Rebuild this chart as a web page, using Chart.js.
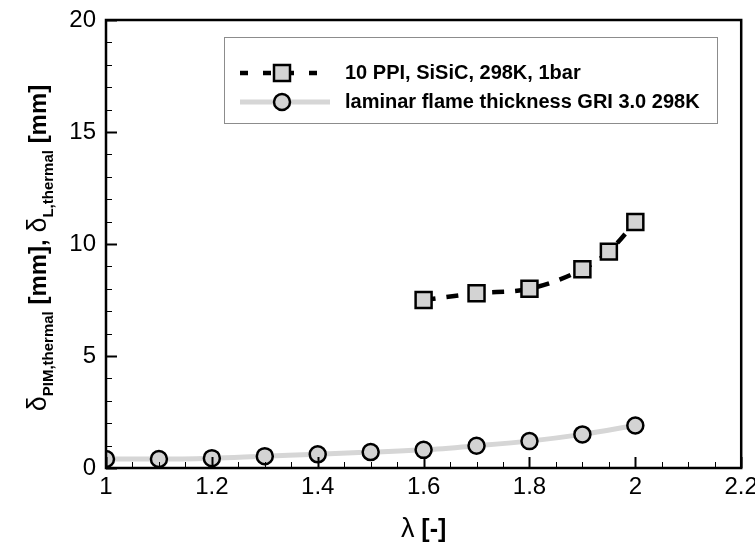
<!DOCTYPE html>
<html>
<head>
<meta charset="utf-8">
<script src="https://cdn.jsdelivr.net/npm/chart.js@4.4.1/dist/chart.umd.min.js"></script>
<style>
  body { margin: 0; background: #fff; }
  canvas { display: block; }
</style>
</head>
<body>
<canvas id="thicknessChart" width="755" height="548"></canvas>
<script>
// data
const lambdaPim = [1.6, 1.7, 1.8, 1.9, 1.95, 2.0];
const deltaPim = [7.5, 7.8, 8.0, 8.87, 9.66, 10.98];
const lambdaLam = [1.0, 1.1, 1.2, 1.3, 1.4, 1.5, 1.6, 1.7, 1.8, 1.9, 2.0];
const deltaLam = [0.40, 0.40, 0.44, 0.53, 0.61, 0.71, 0.81, 0.99, 1.2, 1.5, 1.9];
const xTicks = [1, 1.2, 1.4, 1.6, 1.8, 2, 2.2];
const yTicks = [0, 5, 10, 15, 20];
const legendLabels = ['10 PPI, SiSiC, 298K, 1bar', 'laminar flame thickness GRI 3.0 298K'];

const FONT = '"Liberation Sans", Arial, Helvetica, sans-serif';
const markFill = '#d3d3d3';

const toPoints = (xs, ys) => xs.map((x, i) => ({ x: x, y: ys[i] }));

// frame, inward ticks, axis titles and legend
const decorPlugin = {
  id: 'decor',
  afterDraw(chart) {
    const ctx = chart.ctx;
    const a = chart.chartArea;
    const xs = chart.scales.x, ys = chart.scales.y;
    ctx.save();
    ctx.strokeStyle = '#000';

    // ticks pointing into the plot
    for (let v = 1; v <= 2.2001; v += 0.05) {
      const major = Math.abs(v * 5 - Math.round(v * 5)) < 1e-6;
      const px = Math.round(xs.getPixelForValue(v)) + 0.5;
      ctx.lineWidth = major ? 2 : 1;
      ctx.beginPath();
      ctx.moveTo(px, a.bottom);
      ctx.lineTo(px, a.bottom - (major ? 11 : 6));
      ctx.stroke();
    }
    for (let v = 0; v <= 20; v += 1) {
      const major = v % 5 === 0;
      const py = Math.round(ys.getPixelForValue(v)) + 0.5;
      ctx.lineWidth = major ? 2 : 1;
      ctx.beginPath();
      ctx.moveTo(a.left, py);
      ctx.lineTo(a.left + (major ? 11 : 6), py);
      ctx.stroke();
    }

    // frame
    ctx.lineWidth = 2.5;
    ctx.strokeRect(a.left, a.top, a.right - a.left, a.bottom - a.top);

    // x title
    ctx.fillStyle = '#000';
    ctx.textBaseline = 'alphabetic';
    ctx.font = '27px ' + FONT;
    const lam = '\u03bb';
    const lw = ctx.measureText(lam).width;
    ctx.font = 'bold 25px ' + FONT;
    const rest = ' [-]';
    const rw = ctx.measureText(rest).width;
    const sx = (a.left + a.right) / 2 - (lw + rw) / 2;
    ctx.font = '27px ' + FONT;
    ctx.fillText(lam, sx, 537);
    ctx.font = 'bold 25px ' + FONT;
    ctx.fillText(rest, sx + lw, 537);

    // y title with subscripts, rotated
    const parts = [
      { t: '\u03b4', f: '27px ' + FONT, dy: 0 },
      { t: 'PIM,thermal', f: 'bold 15px ' + FONT, dy: 7 },
      { t: ' [mm], ', f: 'bold 24px ' + FONT, dy: 0 },
      { t: '\u03b4', f: '27px ' + FONT, dy: 0 },
      { t: 'L,thermal', f: 'bold 15px ' + FONT, dy: 7 },
      { t: ' [mm]', f: 'bold 24px ' + FONT, dy: 0 }
    ];
    let total = 0;
    parts.forEach(p => { ctx.font = p.f; p.w = ctx.measureText(p.t).width; total += p.w; });
    ctx.translate(46, 248);
    ctx.rotate(-Math.PI / 2);
    let cx = -total / 2;
    parts.forEach(p => {
      ctx.font = p.f;
      ctx.fillText(p.t, cx, p.dy);
      cx += p.w;
    });
    ctx.restore();

    // legend box
    ctx.save();
    ctx.strokeStyle = '#8c8c8c';
    ctx.lineWidth = 1;
    ctx.strokeRect(224.5, 37.5, 493, 86);
    const rows = [73, 102];
    chart.data.datasets.forEach((ds, i) => {
      const y = rows[i];
      ctx.strokeStyle = ds.borderColor;
      ctx.lineWidth = ds.borderWidth;
      ctx.setLineDash(ds.borderDash ? [8, 15] : []);
      ctx.beginPath();
      ctx.moveTo(240, y);
      ctx.lineTo(i === 0 ? 322 : 330, y);
      ctx.stroke();
      ctx.setLineDash([]);
      ctx.fillStyle = ds.pointBackgroundColor;
      ctx.strokeStyle = ds.pointBorderColor;
      ctx.lineWidth = ds.pointBorderWidth;
      ctx.beginPath();
      if (ds.pointStyle === 'rect') {
        ctx.rect(282 - 8, y - 8, 16, 16);
      } else {
        ctx.arc(282, y, 8, 0, Math.PI * 2);
      }
      ctx.fill();
      ctx.stroke();
      ctx.fillStyle = '#000';
      ctx.font = 'bold 20px ' + FONT;
      ctx.textBaseline = 'middle';
      ctx.fillText(legendLabels[i], 345, y);
    });
    ctx.restore();
  }
};

const chartCtx = document.getElementById('thicknessChart').getContext('2d');
const thicknessChart = new Chart(chartCtx, {
  type: 'line',
  data: {
    datasets: [{
      label: legendLabels[0],
      data: toPoints(lambdaPim, deltaPim),
      borderColor: '#000',
      borderWidth: 4.5,
      borderDash: [12, 11],
      cubicInterpolationMode: 'monotone',
      pointStyle: 'rect',
      pointRadius: 11.3,
      pointBackgroundColor: markFill,
      pointBorderColor: '#000',
      pointBorderWidth: 2.5,
      order: 2
    }, {
      label: legendLabels[1],
      data: toPoints(lambdaLam, deltaLam),
      borderColor: '#d6d6d6',
      borderWidth: 5,
      cubicInterpolationMode: 'monotone',
      pointStyle: 'circle',
      pointRadius: 8,
      pointBackgroundColor: markFill,
      pointBorderColor: '#000',
      pointBorderWidth: 2.5,
      order: 1
    }]
  },
  options: {
    responsive: false,
    animation: false,
    events: [],
    layout: { padding: { top: 20, right: 13, left: 0, bottom: 0 } },
    plugins: {
      legend: { display: false },
      tooltip: { enabled: false }
    },
    scales: {
      x: {
        type: 'linear',
        min: 1,
        max: 2.2,
        grid: { display: false, drawTicks: false },
        border: { display: false },
        afterBuildTicks: s => { s.ticks = xTicks.map(v => ({ value: v })); },
        ticks: {
          color: '#000',
          font: { family: FONT, size: 24 },
          padding: 5,
          maxRotation: 0,
          autoSkip: false,
          callback: v => String(Number(v.toFixed(1)))
        },
        afterFit: s => { s.height = 80; s.paddingLeft = 0; s.paddingRight = 0; }
      },
      y: {
        type: 'linear',
        min: 0,
        max: 20,
        grid: { display: false, drawTicks: false },
        border: { display: false },
        afterBuildTicks: s => { s.ticks = yTicks.map(v => ({ value: v })); },
        ticks: {
          color: '#000',
          font: { family: FONT, size: 24 },
          padding: 10
        },
        afterFit: s => { s.width = 106; s.paddingTop = 0; s.paddingBottom = 0; }
      }
    }
  },
  plugins: [decorPlugin]
});
</script>
</body>
</html>
